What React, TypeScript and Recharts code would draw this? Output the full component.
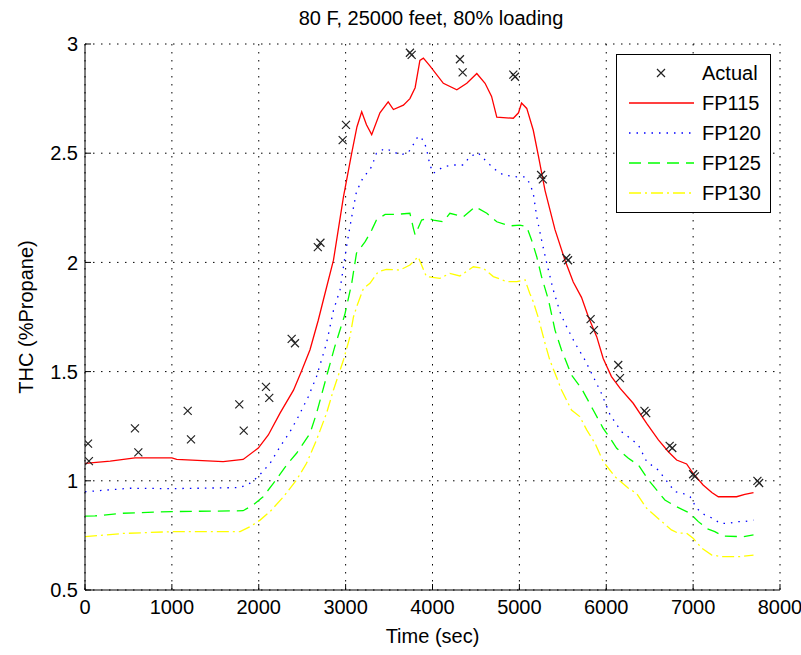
import {
  ComposedChart, Line, Scatter, XAxis, YAxis, CartesianGrid, Legend,
} from 'recharts'

const xTicks = [0, 1000, 2000, 3000, 4000, 5000, 6000, 7000, 8000]
const yTicks = [0.5, 1, 1.5, 2, 2.5, 3]

// measured samples (Time sec, THC %Propane)
const actualTime = [35, 45, 575, 614, 1182, 1220, 1776, 1827, 2083, 2121, 2379, 2417, 2680, 2710, 2966, 3004, 3740, 3760, 4316, 4347, 4930, 4950, 5250, 5270, 5540, 5560, 5820, 5858, 6138, 6158, 6440, 6460, 6730, 6760, 7000, 7020, 7740, 7760]
const actualThc = [1.17, 1.09, 1.24, 1.13, 1.32, 1.19, 1.35, 1.23, 1.43, 1.38, 1.65, 1.63, 2.07, 2.09, 2.56, 2.63, 2.96, 2.95, 2.93, 2.87, 2.86, 2.85, 2.40, 2.38, 2.02, 2.01, 1.74, 1.69, 1.53, 1.47, 1.32, 1.31, 1.16, 1.15, 1.03, 1.02, 1.0, 0.99]

const fp115Time = [0, 290, 575, 1000, 1055, 1590, 1820, 1995, 2110, 2245, 2400, 2495, 2590, 2685, 2745, 2860, 2975, 3070, 3130, 3185, 3240, 3300, 3395, 3490, 3550, 3665, 3740, 3800, 3855, 3895, 3970, 4125, 4280, 4395, 4510, 4605, 4680, 4740, 4930, 4990, 5025, 5085, 5160, 5220, 5295, 5410, 5525, 5620, 5715, 5795, 5890, 5965, 6060, 6160, 6310, 6465, 6600, 6715, 6810, 6925, 7000, 7115, 7215, 7290, 7500, 7595, 7695]
const fp115Thc = [1.08, 1.09, 1.105, 1.105, 1.098, 1.088, 1.098, 1.15, 1.21, 1.31, 1.415, 1.505, 1.6, 1.735, 1.83, 2.01, 2.3, 2.5, 2.62, 2.69, 2.63, 2.585, 2.685, 2.735, 2.7, 2.72, 2.75, 2.8, 2.925, 2.935, 2.9, 2.82, 2.79, 2.82, 2.865, 2.82, 2.76, 2.665, 2.66, 2.685, 2.73, 2.705, 2.605, 2.485, 2.33, 2.15, 2.01, 1.91, 1.84, 1.75, 1.66, 1.56, 1.477, 1.423, 1.355, 1.263, 1.187, 1.133, 1.095, 1.077, 1.034, 0.981, 0.946, 0.927, 0.927, 0.938, 0.946]

const fp120Time = [0, 520, 1000, 1785, 1900, 1995, 2130, 2245, 2360, 2455, 2570, 2665, 2780, 2860, 2935, 3010, 3070, 3125, 3205, 3280, 3320, 3355, 3455, 3550, 3625, 3720, 3800, 3835, 3895, 3930, 3970, 4010, 4125, 4240, 4355, 4430, 4525, 4605, 4700, 4815, 4970, 5065, 5120, 5160, 5200, 5255, 5315, 5390, 5470, 5525, 5640, 5755, 5850, 5945, 6045, 6175, 6275, 6370, 6465, 6600, 6790, 6885, 6965, 7040, 7135, 7230, 7310, 7405, 7500, 7595, 7695]
const fp120Thc = [0.95, 0.966, 0.964, 0.969, 0.989, 1.02, 1.08, 1.156, 1.225, 1.293, 1.385, 1.477, 1.63, 1.78, 1.874, 2.072, 2.209, 2.324, 2.392, 2.423, 2.461, 2.5, 2.522, 2.507, 2.492, 2.502, 2.553, 2.579, 2.56, 2.522, 2.446, 2.408, 2.438, 2.446, 2.446, 2.484, 2.502, 2.469, 2.431, 2.4, 2.392, 2.392, 2.362, 2.316, 2.209, 2.103, 1.996, 1.874, 1.77, 1.72, 1.63, 1.553, 1.477, 1.4, 1.301, 1.225, 1.195, 1.164, 1.088, 1.049, 0.95, 0.942, 0.927, 0.874, 0.843, 0.828, 0.805, 0.805, 0.813, 0.813, 0.82]

const fp125Time = [0, 115, 405, 1000, 1820, 1935, 2050, 2170, 2320, 2435, 2590, 2665, 2780, 2875, 2990, 3070, 3125, 3225, 3300, 3355, 3455, 3585, 3740, 3780, 3800, 3875, 3950, 4010, 4125, 4200, 4355, 4490, 4625, 4740, 4890, 5005, 5085, 5140, 5200, 5255, 5335, 5410, 5485, 5600, 5715, 5850, 5965, 6045, 6120, 6255, 6370, 6485, 6675, 6810, 6965, 7060, 7155, 7250, 7345, 7575, 7695]
const fp125Thc = [0.838, 0.839, 0.851, 0.859, 0.863, 0.889, 0.927, 0.989, 1.072, 1.126, 1.217, 1.309, 1.477, 1.614, 1.76, 1.904, 2.042, 2.095, 2.148, 2.194, 2.22, 2.22, 2.225, 2.156, 2.126, 2.194, 2.202, 2.194, 2.186, 2.225, 2.209, 2.255, 2.225, 2.186, 2.167, 2.171, 2.163, 2.103, 2.026, 1.935, 1.828, 1.69, 1.599, 1.484, 1.423, 1.324, 1.24, 1.195, 1.149, 1.103, 1.072, 1.004, 0.912, 0.881, 0.851, 0.813, 0.782, 0.767, 0.747, 0.744, 0.752]

const fp130Time = [0, 440, 1000, 1785, 1900, 2015, 2130, 2285, 2435, 2550, 2665, 2780, 2860, 2975, 3050, 3090, 3130, 3205, 3280, 3375, 3470, 3625, 3740, 3835, 3930, 4085, 4200, 4315, 4470, 4585, 4700, 4855, 4970, 5065, 5120, 5160, 5220, 5295, 5350, 5410, 5485, 5600, 5695, 5775, 5870, 5965, 6100, 6255, 6350, 6465, 6620, 6750, 6830, 6925, 7000, 7100, 7215, 7330, 7540, 7695]
const fp130Thc = [0.744, 0.759, 0.767, 0.767, 0.79, 0.82, 0.859, 0.927, 1.004, 1.08, 1.187, 1.309, 1.416, 1.553, 1.66, 1.75, 1.8, 1.881, 1.904, 1.957, 1.968, 1.965, 1.988, 2.026, 1.935, 1.927, 1.95, 1.938, 1.98, 1.973, 1.935, 1.912, 1.912, 1.92, 1.858, 1.82, 1.744, 1.63, 1.553, 1.492, 1.416, 1.324, 1.294, 1.233, 1.172, 1.088, 1.019, 0.966, 0.942, 0.874, 0.82, 0.775, 0.76, 0.76, 0.737, 0.691, 0.66, 0.653, 0.653, 0.66]

const zip = (xs: number[], ys: number[]) => xs.map((x, i) => ({ x, y: ys[i] }))

const actual = zip(actualTime, actualThc)
const fp115 = zip(fp115Time, fp115Thc)
const fp120 = zip(fp120Time, fp120Thc)
const fp125 = zip(fp125Time, fp125Thc)
const fp130 = zip(fp130Time, fp130Thc)

const FONT = "'Liberation Sans', Arial, Helvetica, sans-serif"

const series = [
  { name: 'FP115', color: '#ff0000', dash: undefined as string | undefined },
  { name: 'FP120', color: '#0000ff', dash: '1.5 6' },
  { name: 'FP125', color: '#00ff00', dash: '12 7' },
  { name: 'FP130', color: '#ffff00', dash: '12 4 2 4' },
]

const XMark = (props: any) => {
  const { cx, cy } = props
  if (cx == null || cy == null) return null
  const s = 4
  return (
    <path
      d={`M${cx - s},${cy - s}L${cx + s},${cy + s}M${cx - s},${cy + s}L${cx + s},${cy - s}`}
      stroke="#222"
      strokeWidth={1.2}
      fill="none"
    />
  )
}

function LegendBox() {
  return (
    <svg width={155} height={159} style={{ display: 'block' }}>
      <rect x={0.5} y={0.5} width={154} height={158} fill="#fff" stroke="#000" />
      <path d="M41,15L49,23M41,23L49,15" stroke="#222" strokeWidth={1.2} />
      <text x={86} y={26} fontSize={20} fontFamily={FONT} fill="#000">Actual</text>
      {series.map((s, i) => {
        const cy = 49 + i * 30
        return (
          <g key={s.name}>
            <line x1={13} x2={78} y1={cy} y2={cy} stroke={s.color} strokeWidth={1.3} strokeDasharray={s.dash} />
            <text x={86} y={cy + 7} fontSize={20} fontFamily={FONT} fill="#000">{s.name}</text>
          </g>
        )
      })}
    </svg>
  )
}

export default function App() {
  const tickStyle = { fill: '#000', fontSize: 20, fontFamily: FONT }
  return (
    <div style={{ position: 'absolute', left: 0, top: 0, width: 801, height: 655, background: '#fff' }}>
      <div
        style={{
          position: 'absolute', left: 0, top: 6, width: 862, textAlign: 'center',
          fontFamily: FONT, fontSize: 20, color: '#000', lineHeight: '24px',
        }}
      >
        80 F, 25000 feet, 80% loading
      </div>
      <ComposedChart width={801} height={655} margin={{ top: 44, right: 21, bottom: 5, left: 0 }}>
        <CartesianGrid stroke="#000" strokeDasharray="1.5 6.5" />
        <XAxis
          dataKey="x"
          type="number"
          domain={[0, 8000]}
          ticks={xTicks}
          height={60}
          tick={tickStyle}
          tickSize={-6}
          tickMargin={16}
          stroke="#000"
          allowDataOverflow
          label={{
            content: ({ viewBox }: any) => (
              <text x={viewBox.x + viewBox.width / 2} y={viewBox.y + 53} textAnchor="middle" fontSize={20} fontFamily={FONT} fill="#000">
                Time (sec)
              </text>
            ),
          }}
        />
        <XAxis xAxisId="top" orientation="top" type="number" domain={[0, 8000]} ticks={xTicks} height={0} tick={false} tickSize={-6} stroke="#000" />
        <YAxis
          dataKey="y"
          type="number"
          domain={[0.5, 3]}
          ticks={yTicks}
          width={85}
          tick={tickStyle}
          tickSize={-6}
          tickMargin={13}
          stroke="#000"
          allowDataOverflow
          label={{
            content: ({ viewBox }: any) => {
              const cx = 26
              const cy = viewBox.y + viewBox.height / 2
              return (
                <text x={cx} y={cy} transform={`rotate(-90, ${cx}, ${cy})`} textAnchor="middle" dominantBaseline="central" fontSize={20} fontFamily={FONT} fill="#000">
                  THC (%Propane)
                </text>
              )
            },
          }}
        />
        <YAxis yAxisId="right" orientation="right" type="number" domain={[0.5, 3]} ticks={yTicks} width={0} tick={false} tickSize={-6} stroke="#000" />
        <Line data={fp115} dataKey="y" name="FP115" type="linear" stroke="#ff0000" strokeWidth={1.3} dot={false} isAnimationActive={false} />
        <Line data={fp120} dataKey="y" name="FP120" type="linear" stroke="#0000ff" strokeWidth={1.3} strokeDasharray="1.5 6" dot={false} isAnimationActive={false} />
        <Line data={fp125} dataKey="y" name="FP125" type="linear" stroke="#00ff00" strokeWidth={1.3} strokeDasharray="12 7" dot={false} isAnimationActive={false} />
        <Line data={fp130} dataKey="y" name="FP130" type="linear" stroke="#ffff00" strokeWidth={1.3} strokeDasharray="12 4 2 4" dot={false} isAnimationActive={false} />
        <Scatter data={actual} dataKey="y" name="Actual" shape={XMark} isAnimationActive={false} />
        <Legend
          layout="vertical"
          align="center"
          verticalAlign="middle"
          content={() => <LegendBox />}
          wrapperStyle={{ position: 'absolute', left: 616, top: 54, width: 155, height: 159 }}
        />
      </ComposedChart>
    </div>
  )
}
